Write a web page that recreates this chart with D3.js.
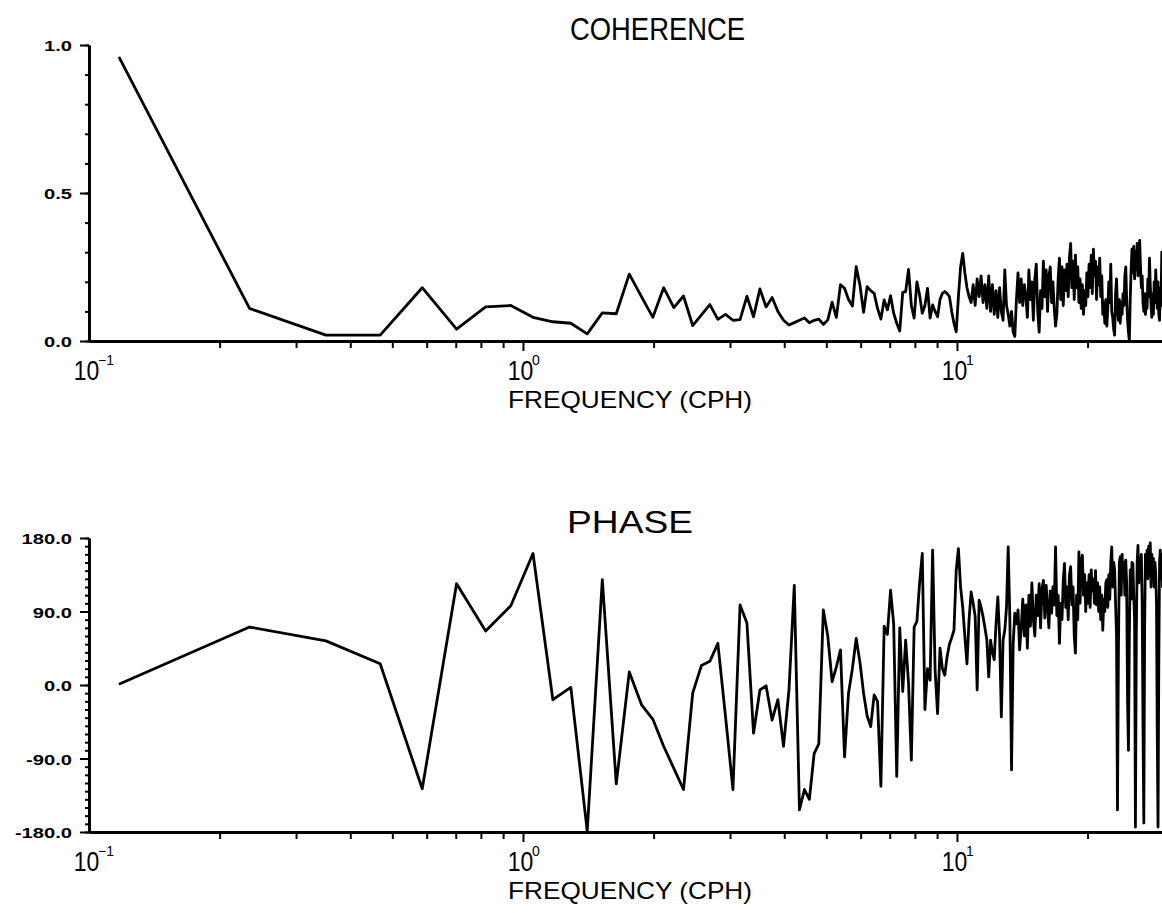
<!DOCTYPE html>
<html>
<head>
<meta charset="utf-8">
<script src="https://cdn.jsdelivr.net/npm/d3@7"></script>
<style>
  html, body { margin: 0; padding: 0; background: #fff; }
  svg { display: block; }
</style>
</head>
<body>
<svg id="chart" width="1162" height="913"></svg>
<script>
// Cross-spectral estimates, one value per frequency bin (bin k = 1..256)
const coherence = [
  0.96, 0.11, 0.02, 0.02, 0.18, 0.04, 0.115, 0.12, 0.08, 0.065,
  0.06, 0.024, 0.095, 0.092, 0.226, 0.15, 0.08, 0.18, 0.113, 0.152,
  0.052, 0.088, 0.123, 0.073, 0.09, 0.07, 0.072, 0.151, 0.082, 0.176,
  0.115, 0.147, 0.1, 0.07, 0.054, 0.062, 0.07, 0.078, 0.062, 0.07,
  0.074, 0.056, 0.071, 0.131, 0.08, 0.19, 0.178, 0.14, 0.118, 0.251,
  0.189, 0.097, 0.184, 0.17, 0.161, 0.11, 0.074, 0.139, 0.105, 0.153,
  0.094, 0.06, 0.034, 0.164, 0.167, 0.242, 0.12, 0.077, 0.2, 0.155,
  0.094, 0.12, 0.178, 0.077, 0.122, 0.1, 0.082, 0.14, 0.161, 0.167,
  0.16, 0.15, 0.1, 0.06, 0.031, 0.15, 0.25, 0.296, 0.23, 0.18,
  0.15, 0.13, 0.19, 0.12, 0.21, 0.15, 0.22, 0.13, 0.19, 0.11,
  0.22, 0.10, 0.19, 0.09, 0.17, 0.08, 0.18, 0.10, 0.07, 0.24,
  0.12, 0.09, 0.05, 0.10, 0.03, 0.015, 0.14, 0.23, 0.13, 0.21,
  0.12, 0.19, 0.15, 0.08, 0.24, 0.14, 0.20, 0.07, 0.21, 0.26,
  0.10, 0.03, 0.17, 0.11, 0.27, 0.15, 0.24, 0.10, 0.22, 0.25,
  0.13, 0.20, 0.11, 0.05, 0.09, 0.21, 0.28, 0.14, 0.25, 0.12,
  0.24, 0.17, 0.26, 0.15, 0.28, 0.33, 0.18, 0.27, 0.14, 0.29,
  0.18, 0.25, 0.13, 0.21, 0.11, 0.19, 0.09, 0.17, 0.12, 0.23,
  0.15, 0.26, 0.18, 0.29, 0.16, 0.31, 0.22, 0.27, 0.14, 0.25,
  0.19, 0.28, 0.15, 0.22, 0.09, 0.13, 0.06, 0.14, 0.05, 0.11,
  0.20, 0.13, 0.26, 0.10, 0.08, 0.04, 0.02, 0.16, 0.21, 0.11,
  0.07, 0.14, 0.06, 0.13, 0.09, 0.16, 0.12, 0.22, 0.25, 0.14,
  0.07, 0.03, 0.0, 0.14, 0.24, 0.31, 0.23, 0.32, 0.21, 0.30,
  0.24, 0.33, 0.22, 0.29, 0.34, 0.25, 0.18, 0.22, 0.13, 0.10,
  0.16, 0.09, 0.14, 0.11, 0.21, 0.15, 0.28, 0.19, 0.12, 0.08,
  0.16, 0.09, 0.20, 0.13, 0.24, 0.16, 0.11, 0.20, 0.09, 0.07,
  0.18, 0.12, 0.30, 0.17, 0.11, 0.08
];

const phase = [
  1, 71, 54, 26, -127, 124, 66, 97, 161, -18,
  -3, -179, 129, -121, 16, -24, -42, -75, -102, -128,
  -10, 24, 29, 51, -39, -128, 98, 76, -59, -6,
  -1, -43, -18, -75, -6, 122, -153, -128, -140, -84,
  -72, 92, 60, 4, 22, 43, -88, -10, 20, 57,
  28, -10, -38, -51, -12, -20, -124, 72, 62, 116,
  75, -112, 70, -8, 55, 2, -92, 71, 78, 125,
  161, -30, 20, 6, 165, 18, -35, 45, 20, 12,
  35, 50, 58, 67, 140, 167, 120, 95, 59, 26,
  80, 114, 100, 84, -6, 104, 95, 84, 70, 55,
  10, 55, 40, 31, 75, 108, 60, -39, 55, 67,
  95, 169, 80, -104, 50, 88, 75, 92, 43, 70,
  105, 60, 98, 45, 110, 72, 125, 80, 60, 110,
  85, 124, 70, 118, 128, 82, 122, 95, 70, 115,
  88, 120, 98, 169, 85, 110, 51, 100, 80, 128,
  149, 95, 120, 80, 135, 145, 98, 120, 60, 39,
  110, 80, 163, 100, 150, 159, 110, 135, 90, 125,
  100, 135, 95, 141, 115, 130, 100, 140, 98, 125,
  90, 120, 80, 110, 67, 105, 90, 125, 129, 95,
  135, 105, 150, 169, 120, 150, 141, 100, 60, -153,
  40, 150, 157, 110, 160, 130, 150, 110, 153, 125,
  -20, -80, 60, 141, 105, 150, 149, 110, 80, -174,
  60, 150, 171, 125, 155, 141, 160, 100, -50, -169,
  70, 160, 140, 165, 130, 170, 150, 174, 120, 160,
  130, 155, 120, 150, 135, 100, -60, -174, 20, 150,
  165, 130, 160, 120, 150, 125
];

// Bin spacing in cycles per hour (512-point transform of 1-minute samples)
const binWidth = 60 / 512;

const decadeTicks = [0.1, 1, 10];
const decadeExponents = ["\u22121", "0", "1"];
const coherenceTicks = [0, 0.5, 1.0];
const coherenceTickLabels = ["0.0", "0.5", "1.0"];
const phaseTicks = [-180, -90, 0, 90, 180];
const phaseTickLabels = ["-180.0", "-90.0", "0.0", "90.0", "180.0"];
const panelTitles = ["COHERENCE", "PHASE"];
const xAxisTitle = "FREQUENCY  (CPH)";

const FONT = "Liberation Sans, Arial, sans-serif";
const svg = d3.select("#chart");
svg.append("rect").attr("width", 1162).attr("height", 913).attr("fill", "#fff");

const left = 89;
const x = d3.scaleLog().domain([0.1, 30]).range([left, 1164]);
const minorX = x.ticks().filter(t => !decadeTicks.some(d => Math.abs(d - t) < 1e-9));

function drawPanel(cfg) {
  const g = svg.append("g");
  const y = d3.scaleLinear().domain(cfg.domain).range([cfg.bottom, cfg.top]);

  // panel title
  g.append("text")
    .attr("x", cfg.titleX).attr("y", cfg.titleY)
    .attr("textLength", cfg.titleLen).attr("lengthAdjust", "spacingAndGlyphs")
    .attr("font-family", FONT)
    .attr("font-size", 32).attr("fill", "#000")
    .text(cfg.title);

  // y minor ticks
  g.append("g").attr("class", "ax")
    .attr("transform", `translate(${left},0)`)
    .call(d3.axisLeft(y).tickValues(cfg.minorY).tickSize(4).tickSizeOuter(0).tickFormat(""));

  // y major ticks and labels
  const yAx = g.append("g").attr("class", "ax")
    .attr("transform", `translate(${left},0)`)
    .call(d3.axisLeft(y).tickValues(cfg.yTicks).tickSize(9).tickSizeOuter(0)
      .tickFormat((d, i) => cfg.yLabels[i]));
  yAx.selectAll("text")
    .attr("x", 0).attr("dy", null).attr("y", 0)
    .attr("transform", "translate(-17,5.5) scale(1.3,1)")
    .attr("text-anchor", "end")
    .attr("font-family", FONT)
    .attr("font-weight", "bold").attr("font-size", 15.5).attr("fill", "#000");

  // x minor ticks
  g.append("g").attr("class", "ax")
    .attr("transform", `translate(0,${cfg.bottom})`)
    .call(d3.axisBottom(x).tickValues(minorX).tickSize(7).tickSizeOuter(0).tickFormat(""));

  // x decade ticks
  g.append("g").attr("class", "ax")
    .attr("transform", `translate(0,${cfg.bottom})`)
    .call(d3.axisBottom(x).tickValues(decadeTicks.slice(1)).tickSize(10).tickSizeOuter(0).tickFormat(""));

  // decade labels 10^n
  decadeTicks.forEach((t, i) => {
    const px = x(t);
    g.append("text")
      .attr("transform", `translate(${px - 2.5},${cfg.bottom + 39}) scale(0.82,1)`)
      .attr("text-anchor", "middle")
      .attr("font-family", FONT)
      .attr("font-size", 28).attr("fill", "#000")
      .text("10");
    g.append("text")
      .attr("x", px + 9).attr("y", cfg.bottom + 24)
      .attr("font-family", FONT)
      .attr("font-size", 14).attr("fill", "#000")
      .text(decadeExponents[i]);
  });

  // frequency axis title
  g.append("text")
    .attr("x", 508).attr("y", cfg.bottom + 67)
    .attr("textLength", 244).attr("lengthAdjust", "spacingAndGlyphs")
    .attr("font-family", FONT)
    .attr("font-size", 24).attr("fill", "#000")
    .text(xAxisTitle);

  // data trace
  const line = d3.line()
    .x((d, i) => x((i + 1) * binWidth))
    .y(d => y(d));
  g.append("path")
    .datum(cfg.values)
    .attr("d", line)
    .attr("fill", "none")
    .attr("stroke", "#000")
    .attr("stroke-width", 2.8)
    .attr("stroke-linejoin", "round");
}

drawPanel({
  values: coherence, domain: [0, 1], top: 45, bottom: 341,
  yTicks: coherenceTicks, yLabels: coherenceTickLabels,
  minorY: d3.range(0, 11).map(i => i / 10),
  title: panelTitles[0], titleX: 570, titleY: 40, titleLen: 175
});

drawPanel({
  values: phase, domain: [-180, 180], top: 538, bottom: 832,
  yTicks: phaseTicks, yLabels: phaseTickLabels,
  minorY: d3.range(-180, 181, 10),
  title: panelTitles[1], titleX: 567, titleY: 533, titleLen: 126
});

svg.selectAll(".ax path.domain").attr("stroke", "#000").attr("stroke-width", 3);
svg.selectAll(".ax line").attr("stroke", "#000").attr("stroke-width", 2);
</script>
</body>
</html>
